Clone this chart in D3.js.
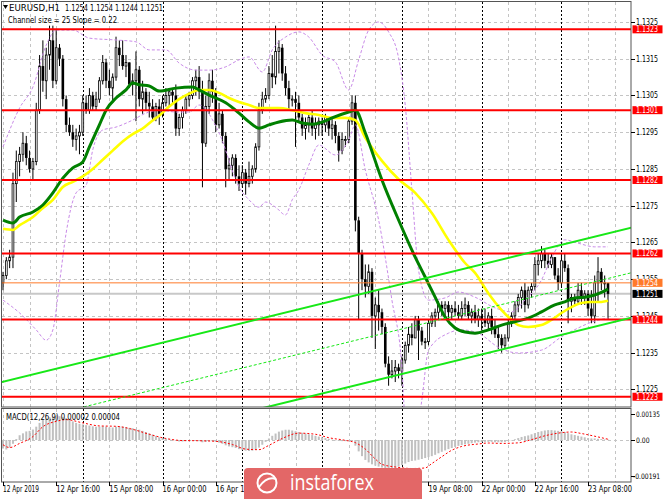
<!DOCTYPE html>
<html>
<head>
<meta charset="utf-8">
<script src="https://cdn.jsdelivr.net/npm/d3@7.9.0/dist/d3.min.js"></script>
<style>
  html, body { margin: 0; padding: 0; background: #fff; }
  svg { display: block; font-family: "DejaVu Sans", "Liberation Sans", sans-serif; }
</style>
</head>
<body>
<svg id="chart" width="665" height="499"></svg>
<script>
// ---- data (EURUSD H1, 12 Apr 00:00 .. 23 Apr 14:00) ----
const firstOpen = 1.1254;

const highs = [
  1.1257, 1.1261, 1.1263, 1.1284, 1.1290, 1.1291, 1.1295, 1.1294, 1.1290, 1.1288, 1.1303, 1.1316,
  1.1320, 1.1318, 1.1324, 1.1324, 1.1323, 1.1319, 1.1316, 1.1305, 1.1299, 1.1297, 1.1296, 1.1297,
  1.1305, 1.1305, 1.1307, 1.1306, 1.1306, 1.1310, 1.1316, 1.1315, 1.1312, 1.1311, 1.1321, 1.1320,
  1.1320, 1.1316, 1.1314, 1.1311, 1.1317, 1.1313, 1.1309, 1.1307, 1.1306, 1.1304, 1.1303, 1.1304,
  1.1305, 1.1307, 1.1307, 1.1307, 1.1308, 1.1300, 1.1302, 1.1305, 1.1306, 1.1310, 1.1312, 1.1313,
  1.1309, 1.1305, 1.1311, 1.1312, 1.1307, 1.1303, 1.1301, 1.1295, 1.1288, 1.1289, 1.1289, 1.1286,
  1.1286, 1.1285, 1.1287, 1.1286, 1.1292, 1.1303, 1.1306, 1.1307, 1.1313, 1.1316, 1.1324, 1.1320,
  1.1319, 1.1313, 1.1309, 1.1305, 1.1306, 1.1305, 1.1300, 1.1299, 1.1300, 1.1301, 1.1299, 1.1299,
  1.1299, 1.1300, 1.1299, 1.1299, 1.1298, 1.1295, 1.1295, 1.1294, 1.1299, 1.1305, 1.1305, 1.1272,
  1.1263, 1.1259, 1.1259, 1.1258, 1.1250, 1.1252, 1.1247, 1.1243, 1.1234, 1.1233, 1.1233, 1.1232,
  1.1234, 1.1238, 1.1242, 1.1243, 1.1245, 1.1245, 1.1242, 1.1239, 1.1244, 1.1246, 1.1247, 1.1249,
  1.1249, 1.1249, 1.1249, 1.1248, 1.1249, 1.1248, 1.1249, 1.1250, 1.1249, 1.1247, 1.1248, 1.1247,
  1.1247, 1.1247, 1.1246, 1.1247, 1.1244, 1.1242, 1.1240, 1.1240, 1.1244, 1.1246, 1.1249, 1.1251,
  1.1253, 1.1254, 1.1253, 1.1254, 1.1261, 1.1262, 1.1264, 1.1263, 1.1262, 1.1262, 1.1261, 1.1258,
  1.1262, 1.1262, 1.1259, 1.1251, 1.1251, 1.1254, 1.1254, 1.1252, 1.1252, 1.1252, 1.1256, 1.1261,
  1.1258, 1.1256, 1.1254
];
const lows = [
  1.1252, 1.1255, 1.1258, 1.1258, 1.1276, 1.1283, 1.1287, 1.1286, 1.1284, 1.1282, 1.1286, 1.1300,
  1.1306, 1.1304, 1.1312, 1.1307, 1.1308, 1.1313, 1.1302, 1.1295, 1.1294, 1.1291, 1.1290, 1.1289,
  1.1294, 1.1300, 1.1300, 1.1301, 1.1301, 1.1303, 1.1308, 1.1307, 1.1305, 1.1303, 1.1309, 1.1313,
  1.1312, 1.1310, 1.1307, 1.1305, 1.1298, 1.1302, 1.1300, 1.1301, 1.1299, 1.1298, 1.1298, 1.1297,
  1.1299, 1.1302, 1.1302, 1.1303, 1.1294, 1.1294, 1.1296, 1.1300, 1.1302, 1.1304, 1.1305, 1.1304,
  1.1280, 1.1291, 1.1300, 1.1303, 1.1295, 1.1296, 1.1292, 1.1280, 1.1282, 1.1283, 1.1281, 1.1279,
  1.1280, 1.1278, 1.1280, 1.1281, 1.1284, 1.1290, 1.1300, 1.1303, 1.1304, 1.1307, 1.1308, 1.1311,
  1.1309, 1.1305, 1.1301, 1.1302, 1.1291, 1.1298, 1.1294, 1.1293, 1.1295, 1.1294, 1.1293, 1.1294,
  1.1294, 1.1295, 1.1294, 1.1293, 1.1292, 1.1287, 1.1289, 1.1291, 1.1292, 1.1297, 1.1268, 1.1244,
  1.1252, 1.1250, 1.1251, 1.1239, 1.1236, 1.1241, 1.1240, 1.1231, 1.1226, 1.1228, 1.1227, 1.1228,
  1.1226, 1.1232, 1.1235, 1.1237, 1.1239, 1.1233, 1.1237, 1.1236, 1.1237, 1.1242, 1.1242, 1.1244,
  1.1245, 1.1245, 1.1244, 1.1244, 1.1245, 1.1244, 1.1244, 1.1245, 1.1244, 1.1243, 1.1243, 1.1242,
  1.1241, 1.1242, 1.1241, 1.1240, 1.1239, 1.1236, 1.1235, 1.1236, 1.1238, 1.1242, 1.1244, 1.1246,
  1.1247, 1.1246, 1.1247, 1.1250, 1.1252, 1.1256, 1.1258, 1.1258, 1.1258, 1.1258, 1.1255, 1.1252,
  1.1253, 1.1257, 1.1243, 1.1246, 1.1248, 1.1248, 1.1248, 1.1248, 1.1245, 1.1243, 1.1243, 1.1249,
  1.1252, 1.1250, 1.1244
];
const closes = [
  1.1256, 1.1260, 1.1261, 1.1281, 1.1287, 1.1289, 1.1292, 1.1288, 1.1285, 1.1287, 1.1301, 1.1313,
  1.1309, 1.1316, 1.1320, 1.1309, 1.1318, 1.1315, 1.1304, 1.1297, 1.1295, 1.1293, 1.1294, 1.1295,
  1.1303, 1.1301, 1.1305, 1.1302, 1.1304, 1.1309, 1.1314, 1.1309, 1.1307, 1.1310, 1.1318, 1.1316,
  1.1313, 1.1314, 1.1308, 1.1309, 1.1312, 1.1304, 1.1306, 1.1303, 1.1302, 1.1299, 1.1302, 1.1300,
  1.1303, 1.1305, 1.1306, 1.1305, 1.1296, 1.1299, 1.1301, 1.1304, 1.1305, 1.1309, 1.1310, 1.1306,
  1.1292, 1.1302, 1.1309, 1.1306, 1.1297, 1.1300, 1.1294, 1.1285, 1.1286, 1.1288, 1.1283, 1.1281,
  1.1284, 1.1281, 1.1283, 1.1285, 1.1291, 1.1301, 1.1304, 1.1305, 1.1311, 1.1310, 1.1317, 1.1318,
  1.1311, 1.1307, 1.1304, 1.1304, 1.1303, 1.1299, 1.1296, 1.1297, 1.1299, 1.1296, 1.1297, 1.1298,
  1.1297, 1.1299, 1.1296, 1.1297, 1.1294, 1.1290, 1.1293, 1.1293, 1.1298, 1.1303, 1.1271, 1.1262,
  1.1255, 1.1253, 1.1257, 1.1245, 1.1248, 1.1246, 1.1242, 1.1232, 1.1229, 1.1230, 1.1231, 1.1230,
  1.1233, 1.1237, 1.1240, 1.1239, 1.1244, 1.1241, 1.1238, 1.1238, 1.1243, 1.1245, 1.1246, 1.1248,
  1.1247, 1.1248, 1.1246, 1.1247, 1.1246, 1.1245, 1.1247, 1.1248, 1.1245, 1.1246, 1.1244, 1.1245,
  1.1244, 1.1243, 1.1245, 1.1242, 1.1240, 1.1239, 1.1237, 1.1239, 1.1243, 1.1245, 1.1248, 1.1250,
  1.1252, 1.1248, 1.1252, 1.1253, 1.1259, 1.1260, 1.1262, 1.1260, 1.1259, 1.1261, 1.1256, 1.1254,
  1.1260, 1.1258, 1.1249, 1.1250, 1.1249, 1.1252, 1.1250, 1.1251, 1.1247, 1.1245, 1.1254, 1.1257,
  1.1254, 1.1254, 1.1251
];

// moving averages, read as [bar, price]
const maYellow = [
  [0,1.12687],[3,1.12684],[5,1.12697],[9,1.12719],[12,1.12744],[15,1.12766],[18,1.12801],[21,1.12815],
  [24,1.12830],[27,1.12850],[30,1.12875],[33,1.12900],[36,1.12925],[39,1.12945],[42,1.12960],[45,1.12982],
  [47,1.12995],[50,1.13020],[53,1.13040],[56,1.13055],[59,1.13065],[62,1.13065],[65,1.13057],[68,1.13043],
  [71,1.13032],[74,1.13024],[77,1.13016],[80,1.13016],[83,1.13016],[87,1.13010],[91,1.13002],[95,1.12997],
  [99,1.12989],[103,1.12989],[106,1.12983],[109,1.12935],[114,1.12872],[119,1.12822],[124,1.12785],
  [129,1.12730],[134,1.12657],[139,1.12594],[142,1.12567],[146,1.12512],[150,1.12466],[153,1.12439],
  [155,1.12425],[158,1.12420],[162,1.12425],[165,1.12439],[168,1.12458],[171,1.12474],[174,1.12485],
  [177,1.12488],[180,1.12488],[182,1.12491]
];
const maGreen = [
  [0,1.12711],[3,1.12703],[5,1.12719],[9,1.12733],[12,1.12752],[15,1.12785],[18,1.12825],[21,1.12853],
  [24,1.12869],[26,1.12910],[29,1.12970],[31,1.13010],[34,1.13043],[37,1.13065],[39,1.13084],[41,1.13079],
  [44,1.13076],[47,1.13062],[52,1.13070],[57,1.13073],[59,1.13065],[62,1.13051],[67,1.13030],[71,1.13002],
  [74,1.12978],[77,1.12961],[80,1.12970],[83,1.12978],[87,1.12983],[90,1.12975],[93,1.12972],[97,1.12981],
  [99,1.12989],[104,1.13005],[106,1.13010],[109,1.12948],[114,1.12820],[119,1.12711],[124,1.12610],
  [127,1.12556],[130,1.12501],[133,1.12447],[136,1.12417],[139,1.12406],[142,1.12403],[146,1.12412],
  [150,1.12425],[154,1.12434],[158,1.12444],[162,1.12461],[166,1.12480],[169,1.12488],[172,1.12499],
  [175,1.12501],[178,1.12507],[181,1.12518],[182,1.12523]
];

// bollinger bands (dotted violet), [bar, price]
const bandUpper = [
  [0,1.12910],[5,1.13016],[9,1.13073],[13,1.13187],[16,1.13228],[21,1.13228],[26,1.13206],[34,1.13201],
  [40,1.13196],[44,1.13174],[49,1.13174],[53,1.13138],[58,1.13119],[62,1.13119],[67,1.13128],[71,1.13147],
  [74,1.13155],[78,1.13114],[81,1.13174],[85,1.13209],[89,1.13223],[92,1.13209],[96,1.13160],[100,1.13141],
  [104,1.13065],[107,1.13147],[110,1.13228],[113,1.13250],[116,1.13223],[119,1.13152],[121,1.13024],
  [123,1.12793],[125,1.12575],[128,1.12493],[133,1.12499],[137,1.12515],[142,1.12501],[148,1.12472],
  [153,1.12461],[157,1.12493],[162,1.12548],[165,1.12608],[169,1.12657],[173,1.12648],[178,1.12638],
  [182,1.12638]
];
const bandLower = [
  [0,1.12493],[5,1.12458],[10,1.12412],[13,1.12384],[15,1.12412],[17,1.12540],[19,1.12676],[22,1.12785],
  [25,1.12806],[27,1.12902],[30,1.12956],[34,1.12964],[39,1.12983],[43,1.13002],[47,1.13010],[52,1.13005],
  [56,1.13005],[59,1.13024],[65,1.12948],[71,1.12801],[74,1.12766],[77,1.12746],[79,1.12760],[82,1.12746],
  [85,1.12725],[87,1.12766],[89,1.12793],[92,1.12861],[95,1.12915],[100,1.12888],[104,1.12929],
  [106,1.12970],[109,1.12847],[113,1.12711],[117,1.12493],[120,1.12311],[121,1.12167],[124,1.12112],
  [126,1.12221],[128,1.12357],[134,1.12403],[138,1.12412],[143,1.12403],[149,1.12365],[155,1.12349],
  [162,1.12357],[168,1.12393],[173,1.12417],[177,1.12433],[182,1.12444]
];

// MACD(12,26,9) main values, one per bar
const macdMain = [
  -0.00045,-0.00050,-0.00040,-0.00020, 0.00005, 0.00025, 0.00035, 0.00045, 0.00048, 0.00055, 0.00070, 0.00090,
   0.00105, 0.00112, 0.00120, 0.00122, 0.00125, 0.00125, 0.00122, 0.00115, 0.00105, 0.00098, 0.00090, 0.00085,
   0.00082, 0.00078, 0.00076, 0.00072, 0.00070, 0.00070, 0.00072, 0.00070, 0.00066, 0.00066, 0.00070, 0.00072,
   0.00070, 0.00068, 0.00064, 0.00062, 0.00058, 0.00054, 0.00048, 0.00042, 0.00035, 0.00028, 0.00020, 0.00014,
   0.00010, 0.00006, 0.00004, 0.00002,-0.00004,-0.00008,-0.00008,-0.00006,-0.00004,-0.00002, 0.00000,-0.00006,
  -0.00012,-0.00010,-0.00006,-0.00006,-0.00010,-0.00014,-0.00020,-0.00028,-0.00034,-0.00038,-0.00042,-0.00048,
  -0.00052,-0.00056,-0.00058,-0.00056,-0.00050,-0.00040,-0.00025,-0.00010, 0.00008, 0.00022, 0.00034, 0.00044,
   0.00050, 0.00054, 0.00054, 0.00050, 0.00046, 0.00042, 0.00038, 0.00034, 0.00030, 0.00026, 0.00022, 0.00018,
   0.00014, 0.00010, 0.00006, 0.00002, 0.00000,-0.00004,-0.00006,-0.00006,-0.00004,-0.00002,-0.00030,-0.00060,
  -0.00085,-0.00105,-0.00118,-0.00128,-0.00135,-0.00140,-0.00145,-0.00150,-0.00152,-0.00150,-0.00146,-0.00140,
  -0.00132,-0.00124,-0.00116,-0.00110,-0.00108,-0.00104,-0.00100,-0.00095,-0.00090,-0.00085,-0.00078,-0.00070,
  -0.00062,-0.00055,-0.00048,-0.00042,-0.00036,-0.00031,-0.00027,-0.00023,-0.00020,-0.00017,-0.00014,-0.00012,
  -0.00011,-0.00010,-0.00010,-0.00010,-0.00012,-0.00012,-0.00012,-0.00010,-0.00006,-0.00002, 0.00004, 0.00010,
   0.00016, 0.00020, 0.00024, 0.00030, 0.00036, 0.00042, 0.00046, 0.00050, 0.00052, 0.00052, 0.00050, 0.00048,
   0.00046, 0.00042, 0.00036, 0.00030, 0.00026, 0.00022, 0.00018, 0.00014, 0.00010, 0.00008, 0.00008, 0.00006,
   0.00005, 0.00003, 0.00002
];
// MACD signal, [bar, value]
const macdSignal = [
  [0,-0.00025],[2,-0.00040],[5,-0.00018],[9,0.00018],[12,0.00070],[16,0.00098],[19,0.00107],[24,0.00090],
  [29,0.00074],[34,0.00072],[39,0.00056],[44,0.00030],[49,0.00008],[54,-0.00003],[59,-0.00004],[64,-0.00007],
  [69,-0.00024],[73,-0.00048],[77,-0.00051],[80,-0.00028],[84,0.00008],[89,0.00036],[94,0.00030],[98,0.00012],
  [103,-0.00002],[106,-0.00014],[109,-0.00048],[112,-0.00100],[114,-0.00128],[118,-0.00142],[123,-0.00150],
  [127,-0.00147],[129,-0.00124],[132,-0.00088],[135,-0.00054],[138,-0.00034],[143,-0.00021],[146,-0.00016],
  [150,-0.00018],[155,-0.00015],[159,0.00002],[163,0.00022],[167,0.00036],[171,0.00042],[174,0.00034],
  [179,0.00016],[182,0.00004]
];

// levels and labels
const redLevels = [1.1323, 1.1301, 1.1282, 1.1262, 1.1244, 1.1223];
const orangeLevel = 1.1254;
const bidLevel = 1.1251;
const priceTicks = [1.1325, 1.1315, 1.1305, 1.1295, 1.1285, 1.1275, 1.1265, 1.1255, 1.1245, 1.1235, 1.1225];
const macdTicks = [[0.00135, '0.00135'], [0, '0.00'], [-0.00191, '-0.00191']];
// labels that the watermark leaves visible
const timeLabels = [
  [0, '12 Apr 2019'], [16, '12 Apr 16:00'], [32, '15 Apr 08:00'], [48, '16 Apr 00:00'],
  [64, '16 Apr 16:00'], [128, '19 Apr 08:00'], [144, '22 Apr 00:00'], [160, '22 Apr 16:00'],
  [176, '23 Apr 08:00']
];
const daySeparators = [24, 48, 72, 96, 120, 144, 168];
// regression channel: upper border through two points, lower = upper - width
const channel = { bar0: 0, price0: 1.12271, bar1: 180, price1: 1.12670, width: 0.00245 };

// ---- layout ----
const svg = d3.select('#chart');
const main = { l: 2, r: 631, t: 2, b: 407 };
const sub = { t: 409, b: 482 };
const lastBar = closes.length - 1;

const x = d3.scaleLinear().domain([0, lastBar]).range([3, 608]);
const y = d3.scaleLinear().domain([1.122021, 1.133044]).range([main.b, main.t]);
const ym = d3.scaleLinear().domain([-0.00221, 0.00163]).range([sub.b, sub.t]);
const opens = [firstOpen, ...closes.slice(0, -1)];
const crisp = v => Math.round(v) + 0.5;

const defs = svg.append('defs');
defs.append('clipPath').attr('id', 'clipMain').append('rect')
  .attr('x', main.l).attr('y', main.t).attr('width', main.r - main.l).attr('height', main.b - main.t);
defs.append('clipPath').attr('id', 'clipSub').append('rect')
  .attr('x', main.l).attr('y', sub.t).attr('width', main.r - main.l).attr('height', sub.b - sub.t);

// grid
const grid = svg.append('g').attr('stroke', '#c4c4c4').attr('stroke-dasharray', '3,3');
priceTicks.forEach(p => {
  grid.append('line').attr('x1', main.l).attr('x2', main.r).attr('y1', crisp(y(p))).attr('y2', crisp(y(p)));
});
grid.append('line').attr('x1', main.l).attr('x2', main.r).attr('y1', crisp(ym(0))).attr('y2', crisp(ym(0)));
d3.range(0, lastBar + 4, 8).filter(i => !daySeparators.includes(i)).forEach(i => {
  const xx = crisp(x(i));
  grid.append('line').attr('x1', xx).attr('x2', xx).attr('y1', main.t).attr('y2', main.b);
  grid.append('line').attr('x1', xx).attr('x2', xx).attr('y1', sub.t).attr('y2', sub.b);
});
const seps = svg.append('g').attr('stroke', '#000').attr('stroke-dasharray', '2,2');
daySeparators.forEach(i => {
  const xx = crisp(x(i));
  seps.append('line').attr('x1', xx).attr('x2', xx).attr('y1', main.t).attr('y2', main.b);
  seps.append('line').attr('x1', xx).attr('x2', xx).attr('y1', sub.t).attr('y2', sub.b);
});

const gMain = svg.append('g').attr('clip-path', 'url(#clipMain)');

// bid line
gMain.append('line').attr('x1', main.l).attr('x2', main.r)
  .attr('y1', y(bidLevel)).attr('y2', y(bidLevel)).attr('stroke', '#c8c8c8').attr('stroke-width', 2);

// candles
const candles = gMain.append('g');
closes.forEach((c, i) => {
  const o = opens[i], cx = x(i);
  candles.append('line').attr('x1', cx).attr('x2', cx).attr('y1', y(highs[i])).attr('y2', y(lows[i]))
    .attr('stroke', '#000').attr('stroke-width', 1);
  const top = y(Math.max(o, c)), h = Math.max(1, y(Math.min(o, c)) - top);
  if (c >= o) {
    candles.append('rect').attr('x', cx - 0.9).attr('y', top).attr('width', 1.8).attr('height', h)
      .attr('fill', '#fff').attr('stroke', '#000').attr('stroke-width', 0.8);
  } else {
    candles.append('rect').attr('x', cx - 1.3).attr('y', top).attr('width', 2.6).attr('height', h)
      .attr('fill', '#000');
  }
});

// indicator lines
const pxLine = d3.line().x(d => x(d[0])).y(d => y(d[1])).curve(d3.curveMonotoneX);
[bandUpper, bandLower].forEach(b => {
  gMain.append('path').attr('d', pxLine(b)).attr('fill', 'none')
    .attr('stroke', '#c98be8').attr('stroke-width', 1).attr('stroke-dasharray', '3,2');
});
gMain.append('path').attr('d', pxLine(maYellow)).attr('fill', 'none')
  .attr('stroke', '#ffff00').attr('stroke-width', 2.6);
gMain.append('path').attr('d', pxLine(maGreen)).attr('fill', 'none')
  .attr('stroke', '#008000').attr('stroke-width', 3);

// horizontal levels
redLevels.forEach(p => {
  gMain.append('line').attr('x1', main.l).attr('x2', main.r).attr('y1', y(p)).attr('y2', y(p))
    .attr('stroke', '#ff0000').attr('stroke-width', 2);
});
gMain.append('line').attr('x1', main.l).attr('x2', main.r).attr('y1', y(orangeLevel)).attr('y2', y(orangeLevel))
  .attr('stroke', '#ff7a2a').attr('stroke-width', 1);

// channel
const slope = (channel.price1 - channel.price0) / (channel.bar1 - channel.bar0);
const chan = (b, off) => channel.price0 + slope * (b - channel.bar0) - off;
[[0, 'none'], [channel.width / 2, '3,2'], [channel.width, 'none']].forEach(([off, dash]) => {
  gMain.append('line')
    .attr('x1', x(-2)).attr('y1', y(chan(-2, off)))
    .attr('x2', x(lastBar + 10)).attr('y2', y(chan(lastBar + 10, off)))
    .attr('stroke', '#17e817').attr('stroke-width', dash === 'none' ? 2 : 1)
    .attr('stroke-dasharray', dash);
});

// MACD
const gSub = svg.append('g').attr('clip-path', 'url(#clipSub)');
macdMain.forEach((v, i) => {
  gSub.append('rect').attr('x', x(i) - 1).attr('width', 2)
    .attr('y', Math.min(ym(v), ym(0))).attr('height', Math.max(0.5, Math.abs(ym(v) - ym(0))))
    .attr('fill', '#c0c0c0');
});
gSub.append('path')
  .attr('d', d3.line().x(d => x(d[0])).y(d => ym(d[1])).curve(d3.curveMonotoneX)(macdSignal))
  .attr('fill', 'none').attr('stroke', '#ff0000').attr('stroke-width', 1).attr('stroke-dasharray', '2,2');

// frames
svg.append('rect').attr('x', main.l - 0.5).attr('y', main.t - 0.5)
  .attr('width', main.r - main.l + 0.5).attr('height', main.b - main.t + 0.5)
  .attr('fill', 'none').attr('stroke', '#555');
svg.append('rect').attr('x', main.l - 0.5).attr('y', sub.t - 0.5)
  .attr('width', main.r - main.l + 0.5).attr('height', sub.b - sub.t + 0.5)
  .attr('fill', 'none').attr('stroke', '#555');

// text helper
function txt(x0, y0, s, len, opts = {}) {
  const t = svg.append('text').attr('x', x0).attr('y', y0).text(s)
    .attr('font-size', opts.size || 8).attr('fill', opts.fill || '#000');
  if (len) t.attr('textLength', len).attr('lengthAdjust', 'spacingAndGlyphs');
  return t;
}

// price axis
priceTicks.forEach(p => {
  svg.append('line').attr('x1', main.r).attr('x2', main.r + 4).attr('y1', crisp(y(p))).attr('y2', crisp(y(p)))
    .attr('stroke', '#000');
  txt(636, y(p) + 3, p.toFixed(4), 22);
});
function box(p, color) {
  svg.append('rect').attr('x', 632.5).attr('y', y(p) - 4).attr('width', 30).attr('height', 8).attr('fill', color);
  txt(636, y(p) + 3, p.toFixed(4), 22, { fill: '#fff' });
}
redLevels.forEach(p => box(p, '#ff0000'));
box(orangeLevel, '#ff7a2a');
box(bidLevel, '#000');

// MACD axis
macdTicks.forEach(([v, s]) => {
  svg.append('line').attr('x1', main.r).attr('x2', main.r + 4).attr('y1', crisp(ym(v))).attr('y2', crisp(ym(v)))
    .attr('stroke', '#000');
  txt(s.startsWith('-') ? 633 : 636, ym(v) + 3, s, s.length * 3.4, { size: 7.5 });
});

// time axis
timeLabels.forEach(([i, s]) => {
  const xx = crisp(x(i));
  svg.append('line').attr('x1', xx).attr('x2', xx).attr('y1', sub.b).attr('y2', sub.b + 4).attr('stroke', '#000');
  txt(x(i), 492, s, s.length === 11 ? 36 : 44);
});

// titles
svg.append('path').attr('d', 'M3,5 L8,5 L5.5,9 Z').attr('fill', '#000');
txt(9, 10.5, 'EURUSD,H1', 51);
txt(65, 10.5, '1.1254 1.1254 1.1244 1.1251', 98);
txt(8, 22.5, 'Channel size = 25 Slope = 0.22', 109);
txt(6, 419.5, 'MACD(12,26,9) 0.00002 0.00004', 114);

// watermark
const wm = svg.append('g');
wm.append('rect').attr('x', 244).attr('y', 468).attr('width', 178).attr('height', 40).attr('rx', 4)
  .attr('fill', '#e36767');
wm.append('circle').attr('cx', 267).attr('cy', 483).attr('r', 9.5)
  .attr('fill', 'none').attr('stroke', '#fff').attr('stroke-width', 2);
wm.append('path').attr('d', 'M259,487 Q267,476 276,479').attr('fill', 'none')
  .attr('stroke', '#fff').attr('stroke-width', 2);
wm.append('text').attr('x', 290).attr('y', 490).text('instaforex')
  .attr('font-family', '"Open Sans", "Liberation Sans", sans-serif')
  .attr('font-size', 21).attr('fill', '#fff')
  .attr('textLength', 84).attr('lengthAdjust', 'spacingAndGlyphs');
</script>
</body>
</html>
